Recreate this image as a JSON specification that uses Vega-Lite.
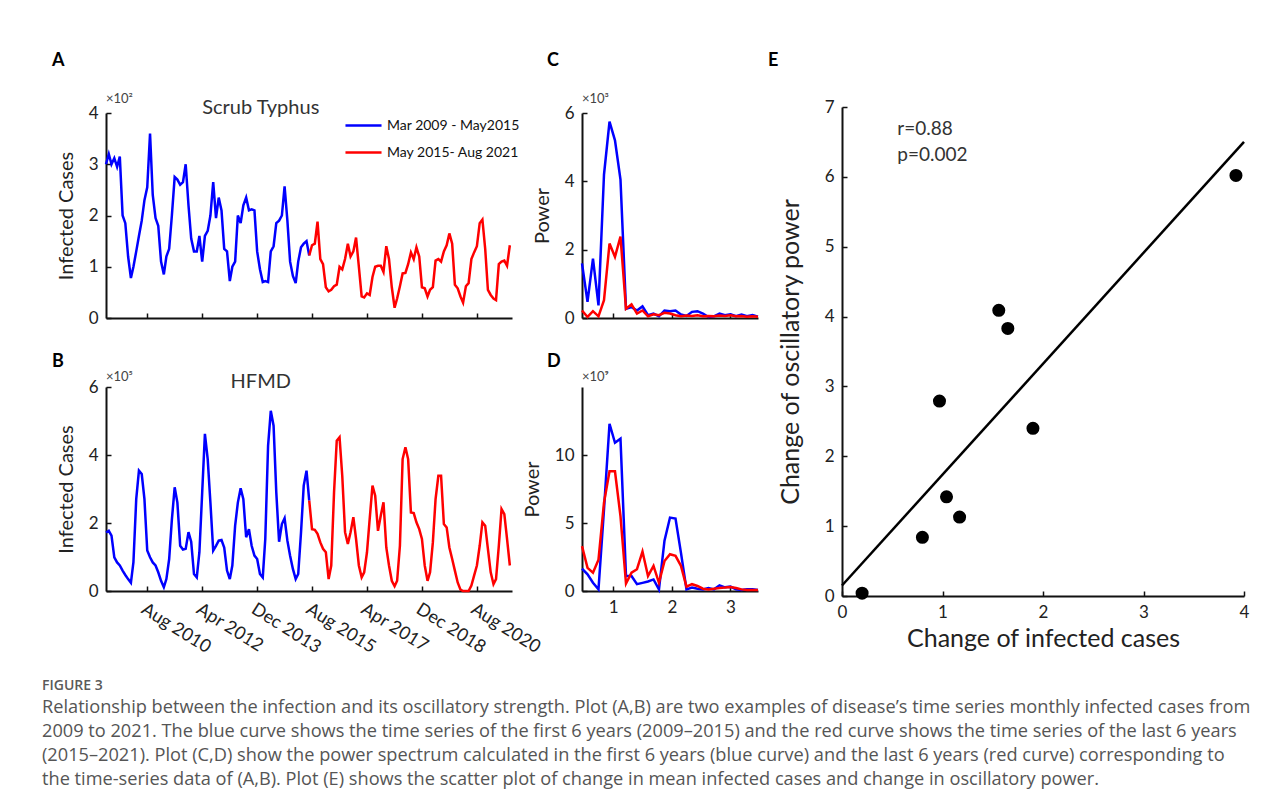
{
  "$schema": "https://vega.github.io/schema/vega-lite/v6.json",
  "background": "white",
  "padding": {"left": 42, "top": 52, "right": 0, "bottom": 12},
  "config": {
    "font": "Lato",
    "view": {"stroke": null},
    "axis": {
      "domainColor": "#111", "domainWidth": 2, "tickColor": "#111", "tickWidth": 1.5, "tickSize": -5,
      "labelFont": "Lato", "labelFontSize": 17, "labelColor": "#222", "labelPadding": 13, "labelFlush": false,
      "titleFont": "Lato", "titleFontSize": 20, "titleFontWeight": "normal", "titleColor": "#222",
      "grid": false
    },
    "title": {"anchor": "start", "frame": "group", "fontSize": 18, "fontWeight": "bold", "color": "#000", "font": "Lato"}
  },
  "datasets": {
    "ts": [
      {"d":"2009/05/01","s":3.0,"h":1.72,"p":"Mar 2009 - May2015"},
      {"d":"2009/06/01","s":3.2,"h":1.77,"p":"Mar 2009 - May2015"},
      {"d":"2009/07/01","s":3.0,"h":1.63,"p":"Mar 2009 - May2015"},
      {"d":"2009/08/01","s":3.12,"h":0.99,"p":"Mar 2009 - May2015"},
      {"d":"2009/09/01","s":2.95,"h":0.84,"p":"Mar 2009 - May2015"},
      {"d":"2009/10/01","s":3.15,"h":0.75,"p":"Mar 2009 - May2015"},
      {"d":"2009/11/01","s":2.0,"h":0.6,"p":"Mar 2009 - May2015"},
      {"d":"2009/12/01","s":1.85,"h":0.47,"p":"Mar 2009 - May2015"},
      {"d":"2010/01/01","s":1.2,"h":0.35,"p":"Mar 2009 - May2015"},
      {"d":"2010/02/01","s":0.78,"h":0.24,"p":"Mar 2009 - May2015"},
      {"d":"2010/03/01","s":1.0,"h":0.85,"p":"Mar 2009 - May2015"},
      {"d":"2010/04/01","s":1.3,"h":2.7,"p":"Mar 2009 - May2015"},
      {"d":"2010/05/01","s":1.6,"h":3.54,"p":"Mar 2009 - May2015"},
      {"d":"2010/06/01","s":1.9,"h":3.44,"p":"Mar 2009 - May2015"},
      {"d":"2010/07/01","s":2.3,"h":2.7,"p":"Mar 2009 - May2015"},
      {"d":"2010/08/01","s":2.55,"h":1.19,"p":"Mar 2009 - May2015"},
      {"d":"2010/09/01","s":3.6,"h":0.99,"p":"Mar 2009 - May2015"},
      {"d":"2010/10/01","s":2.4,"h":0.84,"p":"Mar 2009 - May2015"},
      {"d":"2010/11/01","s":1.95,"h":0.75,"p":"Mar 2009 - May2015"},
      {"d":"2010/12/01","s":1.8,"h":0.55,"p":"Mar 2009 - May2015"},
      {"d":"2011/01/01","s":1.1,"h":0.3,"p":"Mar 2009 - May2015"},
      {"d":"2011/02/01","s":0.85,"h":0.11,"p":"Mar 2009 - May2015"},
      {"d":"2011/03/01","s":1.2,"h":0.35,"p":"Mar 2009 - May2015"},
      {"d":"2011/04/01","s":1.35,"h":0.94,"p":"Mar 2009 - May2015"},
      {"d":"2011/05/01","s":2.0,"h":2.1,"p":"Mar 2009 - May2015"},
      {"d":"2011/06/01","s":2.75,"h":3.05,"p":"Mar 2009 - May2015"},
      {"d":"2011/07/01","s":2.7,"h":2.6,"p":"Mar 2009 - May2015"},
      {"d":"2011/08/01","s":2.6,"h":1.33,"p":"Mar 2009 - May2015"},
      {"d":"2011/09/01","s":2.65,"h":1.22,"p":"Mar 2009 - May2015"},
      {"d":"2011/10/01","s":3.0,"h":1.24,"p":"Mar 2009 - May2015"},
      {"d":"2011/11/01","s":2.2,"h":1.73,"p":"Mar 2009 - May2015"},
      {"d":"2011/12/01","s":1.55,"h":1.45,"p":"Mar 2009 - May2015"},
      {"d":"2012/01/01","s":1.3,"h":0.5,"p":"Mar 2009 - May2015"},
      {"d":"2012/02/01","s":1.3,"h":0.4,"p":"Mar 2009 - May2015"},
      {"d":"2012/03/01","s":1.6,"h":1.14,"p":"Mar 2009 - May2015"},
      {"d":"2012/04/01","s":1.1,"h":2.9,"p":"Mar 2009 - May2015"},
      {"d":"2012/05/01","s":1.6,"h":4.62,"p":"Mar 2009 - May2015"},
      {"d":"2012/06/01","s":1.7,"h":3.88,"p":"Mar 2009 - May2015"},
      {"d":"2012/07/01","s":2.0,"h":2.6,"p":"Mar 2009 - May2015"},
      {"d":"2012/08/01","s":2.65,"h":1.19,"p":"Mar 2009 - May2015"},
      {"d":"2012/09/01","s":1.95,"h":1.33,"p":"Mar 2009 - May2015"},
      {"d":"2012/10/01","s":2.35,"h":1.48,"p":"Mar 2009 - May2015"},
      {"d":"2012/11/01","s":2.1,"h":1.5,"p":"Mar 2009 - May2015"},
      {"d":"2012/12/01","s":1.35,"h":1.28,"p":"Mar 2009 - May2015"},
      {"d":"2013/01/01","s":1.3,"h":0.6,"p":"Mar 2009 - May2015"},
      {"d":"2013/02/01","s":0.72,"h":0.35,"p":"Mar 2009 - May2015"},
      {"d":"2013/03/01","s":1.0,"h":0.75,"p":"Mar 2009 - May2015"},
      {"d":"2013/04/01","s":1.1,"h":1.92,"p":"Mar 2009 - May2015"},
      {"d":"2013/05/01","s":2.0,"h":2.6,"p":"Mar 2009 - May2015"},
      {"d":"2013/06/01","s":1.85,"h":3.02,"p":"Mar 2009 - May2015"},
      {"d":"2013/07/01","s":2.2,"h":2.7,"p":"Mar 2009 - May2015"},
      {"d":"2013/08/01","s":2.35,"h":1.58,"p":"Mar 2009 - May2015"},
      {"d":"2013/09/01","s":2.1,"h":1.82,"p":"Mar 2009 - May2015"},
      {"d":"2013/10/01","s":2.12,"h":1.33,"p":"Mar 2009 - May2015"},
      {"d":"2013/11/01","s":2.1,"h":1.04,"p":"Mar 2009 - May2015"},
      {"d":"2013/12/01","s":1.3,"h":0.94,"p":"Mar 2009 - May2015"},
      {"d":"2014/01/01","s":0.95,"h":0.5,"p":"Mar 2009 - May2015"},
      {"d":"2014/02/01","s":0.7,"h":0.4,"p":"Mar 2009 - May2015"},
      {"d":"2014/03/01","s":0.72,"h":1.53,"p":"Mar 2009 - May2015"},
      {"d":"2014/04/01","s":0.7,"h":4.27,"p":"Mar 2009 - May2015"},
      {"d":"2014/05/01","s":1.3,"h":5.3,"p":"Mar 2009 - May2015"},
      {"d":"2014/06/01","s":1.4,"h":4.86,"p":"Mar 2009 - May2015"},
      {"d":"2014/07/01","s":1.85,"h":2.9,"p":"Mar 2009 - May2015"},
      {"d":"2014/08/01","s":1.9,"h":1.45,"p":"Mar 2009 - May2015"},
      {"d":"2014/09/01","s":2.0,"h":1.97,"p":"Mar 2009 - May2015"},
      {"d":"2014/10/01","s":2.57,"h":2.14,"p":"Mar 2009 - May2015"},
      {"d":"2014/11/01","s":1.9,"h":1.48,"p":"Mar 2009 - May2015"},
      {"d":"2014/12/01","s":1.1,"h":1.04,"p":"Mar 2009 - May2015"},
      {"d":"2015/01/01","s":0.82,"h":0.65,"p":"Mar 2009 - May2015"},
      {"d":"2015/02/01","s":0.68,"h":0.35,"p":"Mar 2009 - May2015"},
      {"d":"2015/03/01","s":1.1,"h":0.5,"p":"Mar 2009 - May2015"},
      {"d":"2015/04/01","s":1.38,"h":1.72,"p":"Mar 2009 - May2015"},
      {"d":"2015/05/01","s":1.45,"h":3.1,"p":"Mar 2009 - May2015"},
      {"d":"2015/06/01","s":1.5,"h":3.54,"p":"Mar 2009 - May2015"},
      {"d":"2015/07/01","s":1.22,"h":2.66,"p":"Mar 2009 - May2015"},
      {"d":"2015/07/01","s":1.22,"h":2.66,"p":"May 2015- Aug 2021"},
      {"d":"2015/08/01","s":1.42,"h":1.82,"p":"May 2015- Aug 2021"},
      {"d":"2015/09/01","s":1.45,"h":1.8,"p":"May 2015- Aug 2021"},
      {"d":"2015/10/01","s":1.88,"h":1.68,"p":"May 2015- Aug 2021"},
      {"d":"2015/11/01","s":1.15,"h":1.43,"p":"May 2015- Aug 2021"},
      {"d":"2015/12/01","s":1.05,"h":1.24,"p":"May 2015- Aug 2021"},
      {"d":"2016/01/01","s":0.6,"h":1.14,"p":"May 2015- Aug 2021"},
      {"d":"2016/02/01","s":0.52,"h":0.35,"p":"May 2015- Aug 2021"},
      {"d":"2016/03/01","s":0.55,"h":0.75,"p":"May 2015- Aug 2021"},
      {"d":"2016/04/01","s":0.62,"h":2.9,"p":"May 2015- Aug 2021"},
      {"d":"2016/05/01","s":0.65,"h":4.42,"p":"May 2015- Aug 2021"},
      {"d":"2016/06/01","s":1.0,"h":4.52,"p":"May 2015- Aug 2021"},
      {"d":"2016/07/01","s":0.95,"h":3.39,"p":"May 2015- Aug 2021"},
      {"d":"2016/08/01","s":1.15,"h":1.73,"p":"May 2015- Aug 2021"},
      {"d":"2016/09/01","s":1.45,"h":1.38,"p":"May 2015- Aug 2021"},
      {"d":"2016/10/01","s":1.2,"h":1.73,"p":"May 2015- Aug 2021"},
      {"d":"2016/11/01","s":1.3,"h":2.17,"p":"May 2015- Aug 2021"},
      {"d":"2016/12/01","s":1.57,"h":1.53,"p":"May 2015- Aug 2021"},
      {"d":"2017/01/01","s":1.0,"h":0.75,"p":"May 2015- Aug 2021"},
      {"d":"2017/02/01","s":0.42,"h":0.4,"p":"May 2015- Aug 2021"},
      {"d":"2017/03/01","s":0.4,"h":0.55,"p":"May 2015- Aug 2021"},
      {"d":"2017/04/01","s":0.48,"h":1.14,"p":"May 2015- Aug 2021"},
      {"d":"2017/05/01","s":0.45,"h":2.12,"p":"May 2015- Aug 2021"},
      {"d":"2017/06/01","s":0.8,"h":3.1,"p":"May 2015- Aug 2021"},
      {"d":"2017/07/01","s":1.0,"h":2.8,"p":"May 2015- Aug 2021"},
      {"d":"2017/08/01","s":1.02,"h":1.77,"p":"May 2015- Aug 2021"},
      {"d":"2017/09/01","s":1.02,"h":2.22,"p":"May 2015- Aug 2021"},
      {"d":"2017/10/01","s":0.9,"h":2.61,"p":"May 2015- Aug 2021"},
      {"d":"2017/11/01","s":1.4,"h":1.28,"p":"May 2015- Aug 2021"},
      {"d":"2017/12/01","s":1.15,"h":0.75,"p":"May 2015- Aug 2021"},
      {"d":"2018/01/01","s":0.6,"h":0.3,"p":"May 2015- Aug 2021"},
      {"d":"2018/02/01","s":0.2,"h":0.14,"p":"May 2015- Aug 2021"},
      {"d":"2018/03/01","s":0.38,"h":0.3,"p":"May 2015- Aug 2021"},
      {"d":"2018/04/01","s":0.62,"h":1.33,"p":"May 2015- Aug 2021"},
      {"d":"2018/05/01","s":0.87,"h":3.88,"p":"May 2015- Aug 2021"},
      {"d":"2018/06/01","s":0.88,"h":4.23,"p":"May 2015- Aug 2021"},
      {"d":"2018/07/01","s":1.05,"h":3.88,"p":"May 2015- Aug 2021"},
      {"d":"2018/08/01","s":1.28,"h":2.31,"p":"May 2015- Aug 2021"},
      {"d":"2018/09/01","s":1.15,"h":2.29,"p":"May 2015- Aug 2021"},
      {"d":"2018/10/01","s":1.38,"h":2.02,"p":"May 2015- Aug 2021"},
      {"d":"2018/11/01","s":1.2,"h":1.82,"p":"May 2015- Aug 2021"},
      {"d":"2018/12/01","s":0.6,"h":1.53,"p":"May 2015- Aug 2021"},
      {"d":"2019/01/01","s":0.58,"h":0.75,"p":"May 2015- Aug 2021"},
      {"d":"2019/02/01","s":0.42,"h":0.3,"p":"May 2015- Aug 2021"},
      {"d":"2019/03/01","s":0.55,"h":0.55,"p":"May 2015- Aug 2021"},
      {"d":"2019/04/01","s":0.6,"h":1.43,"p":"May 2015- Aug 2021"},
      {"d":"2019/05/01","s":1.12,"h":2.7,"p":"May 2015- Aug 2021"},
      {"d":"2019/06/01","s":1.15,"h":3.39,"p":"May 2015- Aug 2021"},
      {"d":"2019/07/01","s":1.1,"h":3.39,"p":"May 2015- Aug 2021"},
      {"d":"2019/08/01","s":1.3,"h":1.97,"p":"May 2015- Aug 2021"},
      {"d":"2019/09/01","s":1.42,"h":1.87,"p":"May 2015- Aug 2021"},
      {"d":"2019/10/01","s":1.65,"h":1.28,"p":"May 2015- Aug 2021"},
      {"d":"2019/11/01","s":1.45,"h":0.94,"p":"May 2015- Aug 2021"},
      {"d":"2019/12/01","s":0.65,"h":0.6,"p":"May 2015- Aug 2021"},
      {"d":"2020/01/01","s":0.58,"h":0.25,"p":"May 2015- Aug 2021"},
      {"d":"2020/02/01","s":0.42,"h":0.04,"p":"May 2015- Aug 2021"},
      {"d":"2020/03/01","s":0.3,"h":0.0,"p":"May 2015- Aug 2021"},
      {"d":"2020/04/01","s":0.62,"h":0.0,"p":"May 2015- Aug 2021"},
      {"d":"2020/05/01","s":0.68,"h":0.0,"p":"May 2015- Aug 2021"},
      {"d":"2020/06/01","s":1.15,"h":0.16,"p":"May 2015- Aug 2021"},
      {"d":"2020/07/01","s":1.28,"h":0.45,"p":"May 2015- Aug 2021"},
      {"d":"2020/08/01","s":1.4,"h":0.75,"p":"May 2015- Aug 2021"},
      {"d":"2020/09/01","s":1.85,"h":1.33,"p":"May 2015- Aug 2021"},
      {"d":"2020/10/01","s":1.92,"h":2.02,"p":"May 2015- Aug 2021"},
      {"d":"2020/11/01","s":1.35,"h":1.92,"p":"May 2015- Aug 2021"},
      {"d":"2020/12/01","s":0.55,"h":1.24,"p":"May 2015- Aug 2021"},
      {"d":"2021/01/01","s":0.45,"h":0.55,"p":"May 2015- Aug 2021"},
      {"d":"2021/02/01","s":0.38,"h":0.2,"p":"May 2015- Aug 2021"},
      {"d":"2021/03/01","s":0.35,"h":0.35,"p":"May 2015- Aug 2021"},
      {"d":"2021/04/01","s":1.05,"h":1.33,"p":"May 2015- Aug 2021"},
      {"d":"2021/05/01","s":1.1,"h":2.41,"p":"May 2015- Aug 2021"},
      {"d":"2021/06/01","s":1.12,"h":2.26,"p":"May 2015- Aug 2021"},
      {"d":"2021/07/01","s":1.02,"h":1.53,"p":"May 2015- Aug 2021"},
      {"d":"2021/08/01","s":1.42,"h":0.75,"p":"May 2015- Aug 2021"}
    ],
    "spec": [
      {"f":0.469,"c":1.6,"dd":1.65,"p":"Mar 2009 - May2015"},
      {"f":0.563,"c":0.47,"dd":1.23,"p":"Mar 2009 - May2015"},
      {"f":0.656,"c":1.74,"dd":0.61,"p":"Mar 2009 - May2015"},
      {"f":0.75,"c":0.37,"dd":0.12,"p":"Mar 2009 - May2015"},
      {"f":0.844,"c":4.2,"dd":6.0,"p":"Mar 2009 - May2015"},
      {"f":0.938,"c":5.75,"dd":12.3,"p":"Mar 2009 - May2015"},
      {"f":1.031,"c":5.2,"dd":10.9,"p":"Mar 2009 - May2015"},
      {"f":1.125,"c":4.05,"dd":11.2,"p":"Mar 2009 - May2015"},
      {"f":1.219,"c":0.27,"dd":1.1,"p":"Mar 2009 - May2015"},
      {"f":1.313,"c":0.32,"dd":1.1,"p":"Mar 2009 - May2015"},
      {"f":1.406,"c":0.22,"dd":0.5,"p":"Mar 2009 - May2015"},
      {"f":1.5,"c":0.34,"dd":0.6,"p":"Mar 2009 - May2015"},
      {"f":1.594,"c":0.08,"dd":0.7,"p":"Mar 2009 - May2015"},
      {"f":1.688,"c":0.13,"dd":0.85,"p":"Mar 2009 - May2015"},
      {"f":1.781,"c":0.05,"dd":0.12,"p":"Mar 2009 - May2015"},
      {"f":1.875,"c":0.22,"dd":3.7,"p":"Mar 2009 - May2015"},
      {"f":1.969,"c":0.2,"dd":5.4,"p":"Mar 2009 - May2015"},
      {"f":2.063,"c":0.22,"dd":5.33,"p":"Mar 2009 - May2015"},
      {"f":2.156,"c":0.1,"dd":2.8,"p":"Mar 2009 - May2015"},
      {"f":2.25,"c":0.06,"dd":0.12,"p":"Mar 2009 - May2015"},
      {"f":2.344,"c":0.18,"dd":0.25,"p":"Mar 2009 - May2015"},
      {"f":2.438,"c":0.2,"dd":0.17,"p":"Mar 2009 - May2015"},
      {"f":2.531,"c":0.13,"dd":0.12,"p":"Mar 2009 - May2015"},
      {"f":2.625,"c":0.03,"dd":0.22,"p":"Mar 2009 - May2015"},
      {"f":2.719,"c":0.05,"dd":0.12,"p":"Mar 2009 - May2015"},
      {"f":2.813,"c":0.13,"dd":0.42,"p":"Mar 2009 - May2015"},
      {"f":2.906,"c":0.08,"dd":0.27,"p":"Mar 2009 - May2015"},
      {"f":3.0,"c":0.11,"dd":0.32,"p":"Mar 2009 - May2015"},
      {"f":3.094,"c":0.05,"dd":0.12,"p":"Mar 2009 - May2015"},
      {"f":3.188,"c":0.1,"dd":0.07,"p":"Mar 2009 - May2015"},
      {"f":3.281,"c":0.05,"dd":0.12,"p":"Mar 2009 - May2015"},
      {"f":3.375,"c":0.09,"dd":0.12,"p":"Mar 2009 - May2015"},
      {"f":3.469,"c":0.04,"dd":0.07,"p":"Mar 2009 - May2015"},
      {"f":0.469,"c":0.22,"dd":3.3,"p":"May 2015- Aug 2021"},
      {"f":0.563,"c":0.03,"dd":1.7,"p":"May 2015- Aug 2021"},
      {"f":0.656,"c":0.2,"dd":1.35,"p":"May 2015- Aug 2021"},
      {"f":0.75,"c":0.05,"dd":2.3,"p":"May 2015- Aug 2021"},
      {"f":0.844,"c":0.52,"dd":6.5,"p":"May 2015- Aug 2021"},
      {"f":0.938,"c":2.18,"dd":8.8,"p":"May 2015- Aug 2021"},
      {"f":1.031,"c":1.79,"dd":8.8,"p":"May 2015- Aug 2021"},
      {"f":1.125,"c":2.38,"dd":5.5,"p":"May 2015- Aug 2021"},
      {"f":1.219,"c":0.27,"dd":0.55,"p":"May 2015- Aug 2021"},
      {"f":1.313,"c":0.4,"dd":1.35,"p":"May 2015- Aug 2021"},
      {"f":1.406,"c":0.13,"dd":1.6,"p":"May 2015- Aug 2021"},
      {"f":1.5,"c":0.22,"dd":2.9,"p":"May 2015- Aug 2021"},
      {"f":1.594,"c":0.05,"dd":1.1,"p":"May 2015- Aug 2021"},
      {"f":1.688,"c":0.11,"dd":1.85,"p":"May 2015- Aug 2021"},
      {"f":1.781,"c":0.08,"dd":0.6,"p":"May 2015- Aug 2021"},
      {"f":1.875,"c":0.15,"dd":2.2,"p":"May 2015- Aug 2021"},
      {"f":1.969,"c":0.13,"dd":2.7,"p":"May 2015- Aug 2021"},
      {"f":2.063,"c":0.08,"dd":2.58,"p":"May 2015- Aug 2021"},
      {"f":2.156,"c":0.05,"dd":1.85,"p":"May 2015- Aug 2021"},
      {"f":2.25,"c":0.07,"dd":0.32,"p":"May 2015- Aug 2021"},
      {"f":2.344,"c":0.06,"dd":0.5,"p":"May 2015- Aug 2021"},
      {"f":2.438,"c":0.08,"dd":0.37,"p":"May 2015- Aug 2021"},
      {"f":2.531,"c":0.05,"dd":0.17,"p":"May 2015- Aug 2021"},
      {"f":2.625,"c":0.06,"dd":0.12,"p":"May 2015- Aug 2021"},
      {"f":2.719,"c":0.05,"dd":0.17,"p":"May 2015- Aug 2021"},
      {"f":2.813,"c":0.07,"dd":0.22,"p":"May 2015- Aug 2021"},
      {"f":2.906,"c":0.06,"dd":0.25,"p":"May 2015- Aug 2021"},
      {"f":3.0,"c":0.08,"dd":0.3,"p":"May 2015- Aug 2021"},
      {"f":3.094,"c":0.05,"dd":0.22,"p":"May 2015- Aug 2021"},
      {"f":3.188,"c":0.06,"dd":0.12,"p":"May 2015- Aug 2021"},
      {"f":3.281,"c":0.04,"dd":0.07,"p":"May 2015- Aug 2021"},
      {"f":3.375,"c":0.05,"dd":0.07,"p":"May 2015- Aug 2021"},
      {"f":3.469,"c":0.04,"dd":0.07,"p":"May 2015- Aug 2021"}
    ],
    "pts": [
      {"x":0.2,"y":0.04},{"x":0.8,"y":0.84},{"x":0.97,"y":2.79},{"x":1.04,"y":1.42},{"x":1.17,"y":1.13},
      {"x":1.56,"y":4.09},{"x":1.65,"y":3.83},{"x":1.9,"y":2.4},{"x":3.92,"y":6.02}
    ],
    "fit": [{"x":0,"y":0.15},{"x":4,"y":6.5}],
    "stats": [{"x":0.55,"y":6.68,"t":"r=0.88"},{"x":0.55,"y":6.31,"t":"p=0.002"}],
    "one": [{}],
    "none": []
  },
  "title": {
    "text": "FIGURE 3",
    "subtitle": [
      "Relationship between the infection and its oscillatory strength. Plot (A,B) are two examples of disease’s time series monthly infected cases from",
      "2009 to 2021. The blue curve shows the time series of the first 6 years (2009–2015) and the red curve shows the time series of the last 6 years",
      "(2015–2021). Plot (C,D) show the power spectrum calculated in the first 6 years (blue curve) and the last 6 years (red curve) corresponding to",
      "the time-series data of (A,B). Plot (E) shows the scatter plot of change in mean infected cases and change in oscillatory power."
    ],
    "orient": "bottom", "anchor": "start", "frame": "bounds",
    "font": "Open Sans", "fontSize": 14, "fontWeight": 600, "color": "#5a5a5a",
    "subtitleFont": "Open Sans", "subtitleFontSize": 18.2, "subtitleColor": "#555", "subtitleLineHeight": 24, "subtitlePadding": 6,
    "offset": 22, "dx": -10
  },
  "resolve": {"scale": {"color": "independent"}, "legend": {"color": "independent"}},
  "spacing": 5,
  "hconcat": [
    {
      "resolve": {"scale": {"color": "independent"}, "legend": {"color": "independent"}},
      "spacing": -56,
      "vconcat": [
        {
          "width": 1, "height": 1,
          "data": {"name": "none"},
          "mark": {"type": "point", "opacity": 0},
          "encoding": {}
        },
        {
          "resolve": {"scale": {"color": "independent"}, "legend": {"color": "independent"}},
          "spacing": -21,
          "hconcat": [
            {
              "resolve": {"scale": {"color": "independent"}, "legend": {"color": "independent"}},
              "spacing": 27,
              "vconcat": [
                {
                  "width": 406, "height": 205,
                  "title": {"text": "A", "dx": -54, "offset": 23},
                  "layer": [
                    {
                      "data": {"name": "ts"},
                      "mark": {"type": "line", "strokeWidth": 2.5},
                      "encoding": {
                        "x": {"field": "d", "type": "temporal",
                          "scale": {"domain": [{"year":2009,"month":5,"date":1}, {"year":2021,"month":8,"date":25}]},
                          "axis": {"values": [{"year":2010,"month":8,"date":1},{"year":2012,"month":4,"date":1},{"year":2013,"month":12,"date":1},{"year":2015,"month":8,"date":1},{"year":2017,"month":4,"date":1},{"year":2018,"month":12,"date":1},{"year":2020,"month":8,"date":1}], "labels": false, "title": null}},
                        "y": {"field": "s", "type": "quantitative", "scale": {"domain": [0, 4], "nice": false},
                          "axis": {"values": [0,1,2,3,4], "format": "d", "labelAngle": 0, "title": "Infected Cases", "titlePadding": 12}},
                        "color": {"field": "p", "type": "nominal",
                          "scale": {"domain": ["Mar 2009 - May2015", "May 2015- Aug 2021"], "range": ["#0000ff", "#ff0000"]},
                          "legend": {"orient": "none", "legendX": 238, "legendY": -7, "title": null, "symbolType": "stroke", "symbolSize": 1300, "symbolStrokeWidth": 2.5, "labelFont": "Lato", "labelFontSize": 14, "labelColor": "#111", "labelOffset": 4, "rowPadding": 0, "padding": 0}}
                      }
                    },
                    {
                      "data": {"name": "one"},
                      "mark": {"type": "text", "text": "Scrub Typhus", "fontSize": 20, "color": "#333", "font": "Lato"},
                      "encoding": {"x": {"datum": {"year":2014,"month":1,"date":10}, "type": "temporal"}, "y": {"datum": 4.1}}
                    },
                    {
                      "data": {"name": "one"},
                      "mark": {"type": "text", "text": "×10²", "fontSize": 13, "color": "#444", "align": "left", "baseline": "bottom", "dy": -7, "font": "Lato"},
                      "encoding": {"x": {"datum": {"year":2009,"month":5,"date":1}, "type": "temporal"}, "y": {"datum": 4}}
                    }
                  ]
                },
                {
                  "width": 406, "height": 204,
                  "title": {"text": "B", "dx": -54, "offset": 0},
                  "layer": [
                    {
                      "data": {"name": "ts"},
                      "mark": {"type": "line", "strokeWidth": 2.5},
                      "encoding": {
                        "x": {"field": "d", "type": "temporal",
                          "scale": {"domain": [{"year":2009,"month":5,"date":1}, {"year":2021,"month":8,"date":25}]},
                          "axis": {"values": [{"year":2010,"month":8,"date":1},{"year":2012,"month":4,"date":1},{"year":2013,"month":12,"date":1},{"year":2015,"month":8,"date":1},{"year":2017,"month":4,"date":1},{"year":2018,"month":12,"date":1},{"year":2020,"month":8,"date":1}],
                            "format": "%b %Y", "labelAngle": 32, "labelAlign": "left", "labelBaseline": "top", "labelOverlap": false, "labelPadding": 14, "labelFontSize": 18, "title": null}},
                        "y": {"field": "h", "type": "quantitative", "scale": {"domain": [0, 6], "nice": false},
                          "axis": {"values": [0,2,4,6], "format": "d", "labelAngle": 0, "title": "Infected Cases", "titlePadding": 12}},
                        "color": {"field": "p", "type": "nominal",
                          "scale": {"domain": ["Mar 2009 - May2015", "May 2015- Aug 2021"], "range": ["#0000ff", "#ff0000"]},
                          "legend": null}
                      }
                    },
                    {
                      "data": {"name": "one"},
                      "mark": {"type": "text", "text": "HFMD", "fontSize": 20, "color": "#333", "font": "Lato"},
                      "encoding": {"x": {"datum": {"year":2014,"month":1,"date":10}, "type": "temporal"}, "y": {"datum": 6.15}}
                    },
                    {
                      "data": {"name": "one"},
                      "mark": {"type": "text", "text": "×10⁵", "fontSize": 13, "color": "#444", "align": "left", "baseline": "bottom", "dy": -3, "font": "Lato"},
                      "encoding": {"x": {"datum": {"year":2009,"month":5,"date":1}, "type": "temporal"}, "y": {"datum": 6}}
                    }
                  ]
                }
              ]
            },
            {
              "resolve": {"scale": {"color": "independent"}, "legend": {"color": "independent"}},
              "spacing": 27,
              "vconcat": [
                {
                  "width": 176, "height": 205,
                  "title": {"text": "C", "dx": -35, "offset": 23},
                  "layer": [
                    {
                      "data": {"name": "spec"},
                      "mark": {"type": "line", "strokeWidth": 2.5},
                      "encoding": {
                        "x": {"field": "f", "type": "quantitative", "scale": {"domain": [0.469, 3.469], "nice": false, "zero": false},
                          "axis": {"values": [1,2,3], "labels": false, "title": null}},
                        "y": {"field": "c", "type": "quantitative", "scale": {"domain": [0, 6], "nice": false},
                          "axis": {"values": [0,2,4,6], "format": "d", "labelAngle": 0, "title": "Power", "titlePadding": 12}},
                        "color": {"field": "p", "type": "nominal",
                          "scale": {"domain": ["Mar 2009 - May2015", "May 2015- Aug 2021"], "range": ["#0000ff", "#ff0000"]},
                          "legend": null}
                      }
                    },
                    {
                      "data": {"name": "one"},
                      "mark": {"type": "text", "text": "×10³", "fontSize": 13, "color": "#444", "align": "left", "baseline": "bottom", "dy": -7, "font": "Lato"},
                      "encoding": {"x": {"datum": 0.469}, "y": {"datum": 6}}
                    }
                  ]
                },
                {
                  "width": 176, "height": 204,
                  "title": {"text": "D", "dx": -35, "offset": 0},
                  "layer": [
                    {
                      "data": {"name": "spec"},
                      "mark": {"type": "line", "strokeWidth": 2.5},
                      "encoding": {
                        "x": {"field": "f", "type": "quantitative", "scale": {"domain": [0.469, 3.469], "nice": false, "zero": false},
                          "axis": {"values": [1,2,3], "format": "d", "title": null}},
                        "y": {"field": "dd", "type": "quantitative", "scale": {"domain": [0, 15], "nice": false},
                          "axis": {"values": [0,5,10], "format": "d", "labelAngle": 0, "title": "Power", "titlePadding": 12}},
                        "color": {"field": "p", "type": "nominal",
                          "scale": {"domain": ["Mar 2009 - May2015", "May 2015- Aug 2021"], "range": ["#0000ff", "#ff0000"]},
                          "legend": null}
                      }
                    },
                    {
                      "data": {"name": "one"},
                      "mark": {"type": "text", "text": "×10⁹", "fontSize": 13, "color": "#444", "align": "left", "baseline": "bottom", "dy": -3, "font": "Lato"},
                      "encoding": {"x": {"datum": 0.469}, "y": {"datum": 15}}
                    }
                  ]
                }
              ]
            }
          ]
        }
      ]
    },
    {
      "width": 402, "height": 489,
      "title": {"text": "E", "dx": -74, "offset": 28},
      "layer": [
        {
          "data": {"name": "fit"},
          "mark": {"type": "line", "color": "#000", "strokeWidth": 2.5},
          "encoding": {
            "x": {"field": "x", "type": "quantitative", "scale": {"domain": [0, 4], "nice": false},
              "axis": {"values": [0,1,2,3,4], "format": "d", "title": "Change of infected cases", "titleFontSize": 25, "titlePadding": 6}},
            "y": {"field": "y", "type": "quantitative", "scale": {"domain": [0, 7], "nice": false},
              "axis": {"values": [0,1,2,3,4,5,6,7], "format": "d", "labelAngle": 0, "title": "Change of oscillatory power", "titleFontSize": 25, "titlePadding": 21}}
          }
        },
        {
          "data": {"name": "pts"},
          "mark": {"type": "circle", "color": "#000", "opacity": 1, "size": 170},
          "encoding": {"x": {"field": "x", "type": "quantitative"}, "y": {"field": "y", "type": "quantitative"}}
        },
        {
          "data": {"name": "stats"},
          "mark": {"type": "text", "align": "left", "fontSize": 19, "color": "#333", "font": "Lato"},
          "encoding": {"x": {"field": "x", "type": "quantitative"}, "y": {"field": "y", "type": "quantitative"}, "text": {"field": "t"}}
        }
      ]
    }
  ]
}
